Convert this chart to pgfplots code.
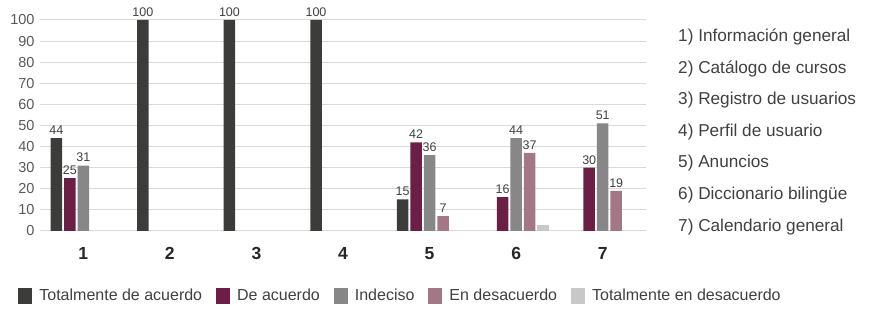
\documentclass[border=0pt]{standalone}
\usepackage{pgfplots}
\pgfplotsset{compat=1.18}
\usepackage{fontspec}
\setmainfont{Liberation Sans}
\definecolor{cdark}{HTML}{3C3C3B}
\definecolor{cmaroon}{HTML}{6B1F45}
\definecolor{cgray}{HTML}{878787}
\definecolor{cpink}{HTML}{A47787}
\definecolor{clight}{HTML}{C8C8C8}
\definecolor{cgrid}{HTML}{D9D9D9}
\definecolor{ctick}{HTML}{595959}
\definecolor{ctext}{HTML}{404040}
\begin{document}
\begin{tikzpicture}
\useasboundingbox (0pt,0pt) rectangle (871pt,310pt);
\begin{axis}[
  at={(40pt,79pt)}, anchor=south west,
  scale only axis, width=606pt, height=211pt,
  ybar=2pt, bar width=11.5pt,
  xmin=0.5, xmax=7.5, ymin=0, ymax=100,
  xtick={1,2,3,4,5,6,7},
  ytick={0,10,...,100},
  ymajorgrids, xmajorgrids=false,
  grid style={cgrid, line width=1pt},
  axis line style={draw=none},
  major tick length=0pt,
  /pgf/number format/assume math mode=true,
  yticklabel style={font=\fontsize{14.5}{14.5}\selectfont, text=ctick, xshift=-2pt},
  xticklabel style={font=\fontsize{17.5}{17.5}\selectfont\bfseries, text=black!85, yshift=-13pt},
  nodes near coords,
  every node near coord/.append style={font=\fontsize{12.5}{12.5}\selectfont, text=ctext},
  legend columns=5,
  legend style={at={(-0.036,-0.306)}, anchor=west, draw=none, fill=none, inner sep=0pt,
    font=\fontsize{16}{16}\selectfont, text=ctext,
    nodes={inner sep=0pt},
    /tikz/every odd column/.append style={column sep=7pt},
    /tikz/every even column/.append style={column sep=14pt}},
  legend image code/.code={\fill[#1] (0pt,-8pt) rectangle (14pt,8pt);},
]
\addplot[fill=cdark, draw=none] coordinates {(1,44) (2,100) (3,100) (4,100) (5,15)};
\addplot[fill=cmaroon, draw=none] coordinates {(1,25) (5,42) (6,16) (7,30)};
\addplot[fill=cgray, draw=none] coordinates {(1,31) (5,36) (6,44) (7,51)};
\addplot[fill=cpink, draw=none] coordinates {(5,7) (6,37) (7,19)};
\addplot[fill=clight, draw=none, nodes near coords=] coordinates {(6,3)};
\legend{Totalmente de acuerdo, De acuerdo, Indeciso, En desacuerdo, Totalmente en desacuerdo}
\end{axis}
\begin{scope}[every node/.style={anchor=base west, font=\fontsize{17.2}{18}\selectfont, text=ctext, inner sep=0pt}]
\node at (678pt,268pt) {1) Información general};
\node at (678pt,236pt) {2) Catálogo de cursos};
\node at (678pt,205pt) {3) Registro de usuarios};
\node at (678pt,173pt) {4) Perfil de usuario};
\node at (678pt,142pt) {5) Anuncios};
\node at (678pt,110pt) {6) Diccionario bilingüe};
\node at (678pt,78pt) {7) Calendario general};
\end{scope}
\end{tikzpicture}
\end{document}
